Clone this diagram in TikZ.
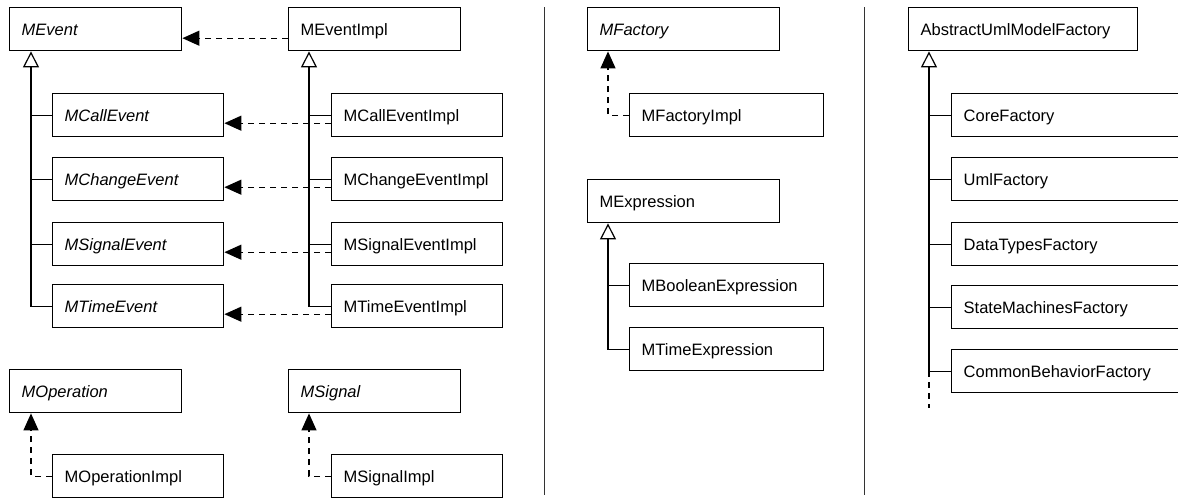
\documentclass[tikz,border=0pt]{standalone}
\usepackage{fontspec}
\setmainfont{Liberation Sans}
\usetikzlibrary{arrows.meta}
\begin{document}
\begin{tikzpicture}[x=1pt,y=-1pt,
  box/.style={draw, line width=1.4pt, anchor=north west, minimum height=43pt,
    inner xsep=12pt, inner ysep=0pt, text height=14pt, text depth=2.2pt, align=left,
    font=\fontsize{16.5pt}{19pt}\selectfont},
  ibox/.style={box, font=\fontsize{16.5pt}{19pt}\selectfont\itshape},
  conn/.style={line width=1.3pt},
  gen/.style={conn, -{Triangle[open,length=16pt,width=16pt,line width=1.2pt]}},
  real/.style={conn, dash pattern=on 6pt off 5pt, -{Triangle[length=17pt,width=15pt]}},
  sep/.style={line width=1pt, black!80}
]
\useasboundingbox (0,0) rectangle (1178,501);
\clip (0,0) rectangle (1178,501);

% left section
\node[ibox, text width=148pt] (mevent) at (9,7) {MEvent};
\node[box, text width=148pt] (meventimpl) at (288,7) {MEventImpl};
\node[ibox, text width=147pt] (mcall) at (52,93) {MCallEvent};
\node[ibox, text width=147pt] (mchange) at (52,157) {MChangeEvent};
\node[ibox, text width=147pt] (msigev) at (52,222) {MSignalEvent};
\node[ibox, text width=147pt] (mtime) at (52,284) {MTimeEvent};
\node[box, text width=147pt] (mcallimpl) at (331,93) {MCallEventImpl};
\node[box, text width=147pt] (mchangeimpl) at (331,157) {MChangeEventImpl};
\node[box, text width=147pt] (msigevimpl) at (331,222) {MSignalEventImpl};
\node[box, text width=147pt] (mtimeimpl) at (331,284) {MTimeEventImpl};
\node[ibox, text width=148pt] (mop) at (9,369) {MOperation};
\node[box, text width=147pt] (mopimpl) at (52,454) {MOperationImpl};
\node[ibox, text width=148pt] (msig) at (288,369) {MSignal};
\node[box, text width=147pt] (msigimpl) at (331,454) {MSignalImpl};

% middle section
\node[ibox, text width=168pt] (mfac) at (587,7) {MFactory};
\node[box, text width=170pt] (mfacimpl) at (629,93) {MFactoryImpl};
\node[box, text width=168pt] (mexpr) at (587,179) {MExpression};
\node[box, text width=170pt] (mbool) at (629,263) {MBooleanExpression};
\node[box, text width=170pt] (mtexpr) at (629,327) {MTimeExpression};

% right section
\node[box, text width=205pt] (auf) at (908,7) {AbstractUmlModelFactory};
\node[box, text width=260pt] (core) at (951,93) {CoreFactory};
\node[box, text width=260pt] (uml) at (951,157) {UmlFactory};
\node[box, text width=260pt] (dtf) at (951,222) {DataTypesFactory};
\node[box, text width=260pt] (smf) at (951,285) {StateMachinesFactory};
\node[box, text width=260pt] (cbf) at (951,349) {CommonBehaviorFactory};

% trunk coordinates
\coordinate (tA) at ([xshift=22pt]mevent.south west);
\coordinate (tB) at ([xshift=21pt]meventimpl.south west);
\coordinate (tC) at ([xshift=22pt]mop.south west);
\coordinate (tD) at ([xshift=21pt]msig.south west);
\coordinate (tE) at ([xshift=21pt]mfac.south west);
\coordinate (tF) at ([xshift=21pt]mexpr.south west);
\coordinate (tG) at ([xshift=21pt]auf.south west);
\coordinate (aufend) at (929,408);

% generalizations
\draw[gen] (mtime.west) -| (tA);
\foreach \n in {mcall,mchange,msigev} \draw[conn] (\n.west) -- (\n.west -| tA);
\draw[gen] (mtimeimpl.west) -| (tB);
\foreach \n in {mcallimpl,mchangeimpl,msigevimpl} \draw[conn] (\n.west) -- (\n.west -| tB);
\draw[gen] (mtexpr.west) -| (tF);
\draw[conn] (mbool.west) -- (mbool.west -| tF);
\draw[gen] (cbf.west) -| (tG);
\foreach \n in {core,uml,dtf,smf} \draw[conn] (\n.west) -- (\n.west -| tG);
\draw[conn, dash pattern=on 6pt off 5pt] (cbf.west -| tG) -- (aufend);

% realizations
\draw[real] ([yshift=-9pt]meventimpl.west) -- ([yshift=-9pt]mevent.east);
\draw[real] ([yshift=-8pt]mcallimpl.west) -- ([yshift=-8pt]mcall.east);
\draw[real] ([yshift=-8pt]mchangeimpl.west) -- ([yshift=-8pt]mchange.east);
\draw[real] ([yshift=-8pt]msigevimpl.west) -- ([yshift=-8pt]msigev.east);
\draw[real] ([yshift=-8pt]mtimeimpl.west) -- ([yshift=-8pt]mtime.east);
\draw[real] (mopimpl.west) -| (tC);
\draw[real] (msigimpl.west) -| (tD);
\draw[real] (mfacimpl.west) -| (tE);

% separators
\coordinate (s1t) at (544,7); \coordinate (s1b) at (544,495);
\coordinate (s2t) at (864,7); \coordinate (s2b) at (864,495);
\draw[sep] (s1t) -- (s1b);
\draw[sep] (s2t) -- (s2b);
\end{tikzpicture}
\end{document}
